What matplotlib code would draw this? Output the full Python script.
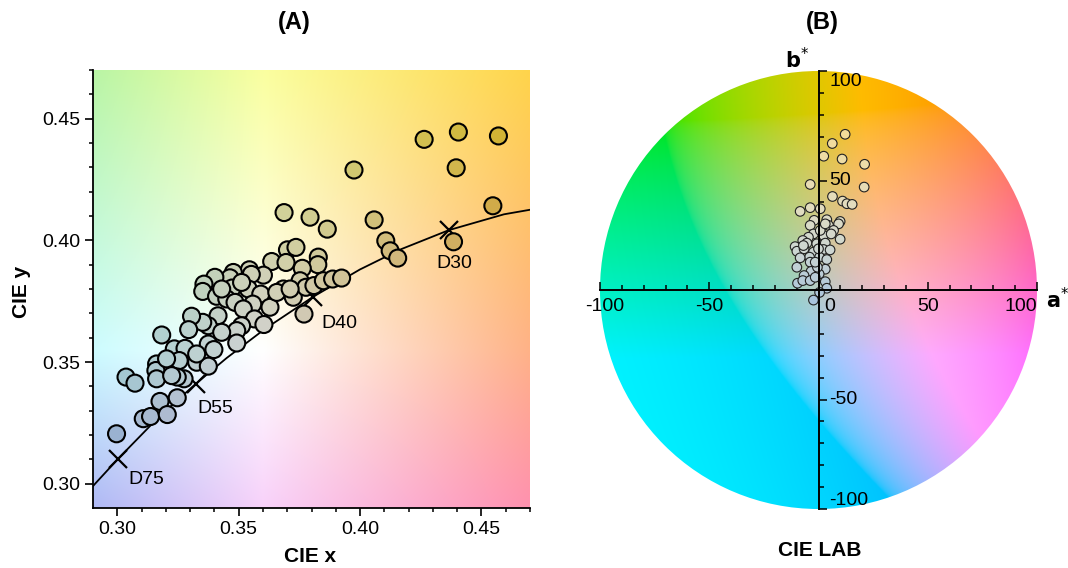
import numpy as np
import matplotlib
matplotlib.use('Agg')
import matplotlib.pyplot as plt
from matplotlib.patches import Circle
from matplotlib.colors import LinearSegmentedColormap

plt.rcParams['font.family'] = ['Liberation Sans', 'DejaVu Sans']

# ---- Panel A data: CIE 1931 chromaticity of the sources ----
cie_x = [0.4264, 0.4405, 0.4570, 0.4396, 0.3975, 0.4547, 0.4058, 0.3687, 0.3794, 0.3865,
         0.4106, 0.4124, 0.4155, 0.4385, 0.3701, 0.3736, 0.3636, 0.3695, 0.3828, 0.3826,
         0.3762, 0.3602, 0.3544, 0.3552, 0.3478, 0.3464, 0.3402, 0.3357, 0.3352, 0.3409,
         0.3473, 0.3451, 0.3485, 0.3540, 0.3591, 0.3558, 0.3519, 0.3629, 0.3684, 0.3725,
         0.3753, 0.3777, 0.3810, 0.3849, 0.3887, 0.3924, 0.3769, 0.3565, 0.3604, 0.3512,
         0.3492, 0.3492, 0.3415, 0.3375, 0.3352, 0.3306, 0.3294, 0.3430, 0.3375, 0.3398,
         0.3183, 0.3235, 0.3279, 0.3162, 0.3159, 0.3162, 0.3255, 0.3327, 0.3375, 0.3275,
         0.3247, 0.3224, 0.3036, 0.3073, 0.3247, 0.3176, 0.3107, 0.3137, 0.3206, 0.2997,
         0.3512, 0.3430, 0.3657, 0.3712, 0.3327, 0.3203]
cie_y = [0.4415, 0.4445, 0.4429, 0.4298, 0.4289, 0.4142, 0.4084, 0.4114, 0.4095, 0.4046,
         0.3998, 0.3957, 0.3927, 0.3994, 0.3961, 0.3971, 0.3913, 0.3909, 0.3931, 0.3900,
         0.3885, 0.3857, 0.3879, 0.3860, 0.3868, 0.3846, 0.3848, 0.3820, 0.3790, 0.3770,
         0.3804, 0.3759, 0.3745, 0.3800, 0.3779, 0.3738, 0.3718, 0.3725, 0.3800, 0.3766,
         0.3834, 0.3807, 0.3814, 0.3834, 0.3841, 0.3845, 0.3697, 0.3677, 0.3654, 0.3649,
         0.3629, 0.3578, 0.3690, 0.3649, 0.3663, 0.3688, 0.3633, 0.3622, 0.3574, 0.3551,
         0.3611, 0.3554, 0.3556, 0.3492, 0.3465, 0.3431, 0.3506, 0.3499, 0.3483, 0.3431,
         0.3438, 0.3444, 0.3438, 0.3413, 0.3353, 0.3338, 0.3267, 0.3276, 0.3284, 0.3205,
         0.3827, 0.3800, 0.3786, 0.3800, 0.3533, 0.3513]

# Planckian locus (x, y) from 2500 K to 9000 K
locus_x = [0.4765, 0.4593, 0.4366, 0.4170, 0.3999, 0.3805, 0.3607, 0.3450, 0.3323,
           0.3220, 0.3135, 0.3004, 0.2908, 0.2870]
locus_y = [0.4137, 0.4107, 0.4042, 0.3964, 0.3880, 0.3767, 0.3635, 0.3516, 0.3410,
           0.3318, 0.3237, 0.3103, 0.2999, 0.2956]

ref_names = ['D75', 'D55', 'D40', 'D30']
ref_x = [0.3004, 0.3323, 0.3805, 0.4366]
ref_y = [0.3103, 0.3410, 0.3767, 0.4042]

# ---- Panel B data: CIE LAB a*, b* ----
lab_a = [12.2, 6.3, 2.4, 10.8, 21.1, -3.8, 20.9, 6.4, 11.0, 13.0,
         15.4, -8.4, -3.8, 0.8, 3.8, 9.9, 9.2, -2.0, -3.8, 4.6,
         6.9, -2.3, 2.3, 9.9, -4.6, -7.2, -10.7, -5.3, -0.8, 3.1,
         -9.9, -6.6, -2.3, 2.3, 5.3, -4.1, -8.4, 0.5, 3.8, -9.9,
         -3.8, -3.4, -6.6, 3.1, 0.3, -9.6, -7.2, -3.8, 3.1, 3.8,
         0.5, -2.3, -0.5, -1.5, 0.8, 0.0, -6.9, 3.1, 5.8, -1.5]
lab_b = [71.1, 66.9, 61.1, 59.8, 57.4, 48.2, 47.0, 42.7, 40.6, 39.4,
         39.1, 35.9, 37.6, 37.1, 32.1, 31.3, 30.2, 31.8, 29.5, 29.5,
         27.2, 25.6, 24.9, 23.2, 24.1, 22.6, 19.8, 21.4, 21.1, 21.4,
         17.7, 18.8, 17.3, 18.5, 18.3, 15.0, 14.7, 15.0, 13.9, 10.4,
         12.7, 8.5, 6.6, 9.5, 7.3, 3.1, 4.3, 4.3, 3.8, 0.8,
         -1.1, -4.6, 10.4, 12.7, 27.2, 18.8, 20.3, 30.2, 25.6, 5.8]

# background anchor colours for the chromaticity panel (bottom row first)
bg_xs = [0.29, 0.36, 0.47]
bg_ys = [0.29, 0.355, 0.47]
bg_grid = np.array([
    [[175, 185, 245], [248, 210, 250], [255, 145, 175]],
    [[205, 252, 255], [255, 255, 255], [255, 178, 135]],
    [[185, 245, 165], [250, 255, 160], [255, 212, 75]],
]) / 255.0


def bilerp(X, Y):
    ix = np.interp(X, bg_xs, np.arange(len(bg_xs)))
    iy = np.interp(Y, bg_ys, np.arange(len(bg_ys)))
    i0 = np.clip(np.floor(ix).astype(int), 0, len(bg_xs) - 2)
    j0 = np.clip(np.floor(iy).astype(int), 0, len(bg_ys) - 2)
    fx = (ix - i0)[..., None]
    fy = (iy - j0)[..., None]
    return (bg_grid[j0, i0] * (1 - fx) * (1 - fy) + bg_grid[j0, i0 + 1] * fx * (1 - fy)
            + bg_grid[j0 + 1, i0] * (1 - fx) * fy + bg_grid[j0 + 1, i0 + 1] * fx * fy)


def lab_to_rgb(L, a, b):
    fy = (L + 16) / 116.0
    fx = fy + a / 500.0
    fz = fy - b / 200.0
    finv = lambda t: np.where(t > 6 / 29, t ** 3, 3 * (6 / 29) ** 2 * (t - 4 / 29))
    X = 0.95047 * finv(fx)
    Y = finv(fy) * np.ones_like(fx)
    Z = 1.08883 * finv(fz)
    r = 3.2406 * X - 1.5372 * Y - 0.4986 * Z
    g = -0.9689 * X + 1.8758 * Y + 0.0415 * Z
    bl = 0.0557 * X - 0.2040 * Y + 1.0570 * Z
    rgb = np.clip(np.stack([r, g, bl], -1), 0, 1)
    return np.where(rgb <= 0.0031308, 12.92 * rgb, 1.055 * rgb ** (1 / 2.4) - 0.055)


W, H = 1068, 568
fig = plt.figure(figsize=(W / 100, H / 100), dpi=100)

# ================= (A) CIE xy =================
axA = fig.add_axes([93 / W, (H - 508) / H, 437 / W, 438 / H])
gx, gy = np.meshgrid(np.linspace(0.29, 0.47, 300), np.linspace(0.29, 0.47, 300))
axA.imshow(bilerp(gx, gy), extent=(0.29, 0.47, 0.29, 0.47), origin='lower',
           aspect='auto', zorder=0, interpolation='bilinear')

axA.plot(locus_x, locus_y, color='black', lw=1.3, zorder=2)
axA.plot(ref_x, ref_y, 'x', color='black', ms=13, mew=1.6, zorder=2)

px = np.array(cie_x)
py = np.array(cie_y)
base = bilerp(px, py)
mean = base.mean(axis=1, keepdims=True)
face = np.clip(0.82 * np.clip(mean + 1.4 * (base - mean), 0, 1), 0, 1)
axA.scatter(px, py, s=150, c=face, edgecolors='black', linewidths=1.5, zorder=3)

label_offsets = [(7, -15), (1, -18), (6, -19), (-9, -24)]
for name, x, y, off in zip(ref_names, ref_x, ref_y, label_offsets):
    axA.annotate(name, (x, y), xytext=off, textcoords='offset points',
                 ha='left', va='center', fontsize=14, zorder=5)

axA.set_xlim(0.29, 0.47)
axA.set_ylim(0.29, 0.47)
axA.set_xticks([0.30, 0.35, 0.40, 0.45])
axA.set_yticks([0.30, 0.35, 0.40, 0.45])
axA.set_xticks(np.arange(0.30, 0.471, 0.01), minor=True)
axA.set_yticks(np.arange(0.30, 0.471, 0.01), minor=True)
axA.xaxis.set_major_formatter(matplotlib.ticker.FormatStrFormatter('%.2f'))
axA.yaxis.set_major_formatter(matplotlib.ticker.FormatStrFormatter('%.2f'))
axA.tick_params(which='major', direction='out', length=5.5, width=1.2, labelsize=14)
axA.tick_params(which='minor', direction='out', length=3, width=1.1)
for s in ['top', 'right']:
    axA.spines[s].set_visible(False)
for s in ['left', 'bottom']:
    axA.spines[s].set_linewidth(1.3)

fig.text(310 / W, 1 - 556 / H, 'CIE x', ha='center', va='center', fontsize=15, fontweight='bold')
fig.text(22 / W, 1 - 292 / H, 'CIE y', ha='center', va='center', fontsize=15,
         fontweight='bold', rotation=90)
fig.text(294 / W, 1 - 22 / H, '(A)', ha='center', va='center', fontsize=17, fontweight='bold')

# ================= (B) CIE LAB =================
axB = fig.add_axes([600 / W, (H - 509) / H, 437 / W, 438 / H])
ga, gb = np.meshgrid(np.linspace(-100, 100, 500), np.linspace(-100, 100, 500))
wheel = lab_to_rgb(80.0, ga - 8, gb)
im = axB.imshow(wheel, extent=(-100, 100, -100, 100), origin='lower', aspect='auto',
                zorder=0, interpolation='bilinear')
im.set_clip_path(Circle((0, 0), 100, transform=axB.transData))

pt_cmap = LinearSegmentedColormap.from_list(
    'pts', [(0.0, '#a9c4dc'), (0.3, '#cdd6d2'), (0.55, '#e2dcc0'), (1.0, '#f3dc98')])
axB.scatter(lab_a, lab_b, s=48, c=lab_b, cmap=pt_cmap, vmin=-5, vmax=72,
            edgecolors='#222222', linewidths=0.8, zorder=3)

axB.set_xlim(-100, 100)
axB.set_ylim(-100, 100)
axB.spines['left'].set_position(('data', 0))
axB.spines['bottom'].set_position(('data', 0))
for s in ['top', 'right']:
    axB.spines[s].set_visible(False)
for s in ['left', 'bottom']:
    axB.spines[s].set_linewidth(1.4)
    axB.spines[s].set_zorder(4)
axB.set_xticks([-100, -50, 0, 50, 100])
axB.set_yticks([-100, -50, 0, 50, 100])
axB.set_xticks(np.arange(-100, 101, 10), minor=True)
axB.set_yticks(np.arange(-100, 101, 10), minor=True)
axB.tick_params(which='both', direction='in', labelbottom=False, labelleft=False, width=1.1)
axB.tick_params(which='major', length=6)
axB.tick_params(which='minor', length=3.5)

a_ticks = [-100, -50, 0, 50, 100]
a_ha = ['center', 'center', 'left', 'center', 'right']
a_pos = [-98, -50, 2.5, 50, 100]
for t, h, p in zip(a_ticks, a_ha, a_pos):
    axB.text(p, -3.5, str(t), ha=h, va='top', fontsize=14)
b_ticks = [100, 50, -50, -100]
b_va = ['top', 'center', 'center', 'bottom']
b_pos = [99, 50, -50, -100]
for t, v, p in zip(b_ticks, b_va, b_pos):
    axB.text(5, p, str(t), ha='left', va=v, fontsize=14)

fig.text(1058 / W, 1 - 300 / H, r'$\mathbf{a}^{*}$', ha='center', va='center', fontsize=15)
fig.text(797 / W, 1 - 60 / H, r'$\mathbf{b}^{*}$', ha='center', va='center', fontsize=15)
fig.text(820 / W, 1 - 550 / H, 'CIE LAB', ha='center', va='center', fontsize=15, fontweight='bold')
fig.text(822 / W, 1 - 22 / H, '(B)', ha='center', va='center', fontsize=17, fontweight='bold')

fig.savefig('out.png', dpi=100)
